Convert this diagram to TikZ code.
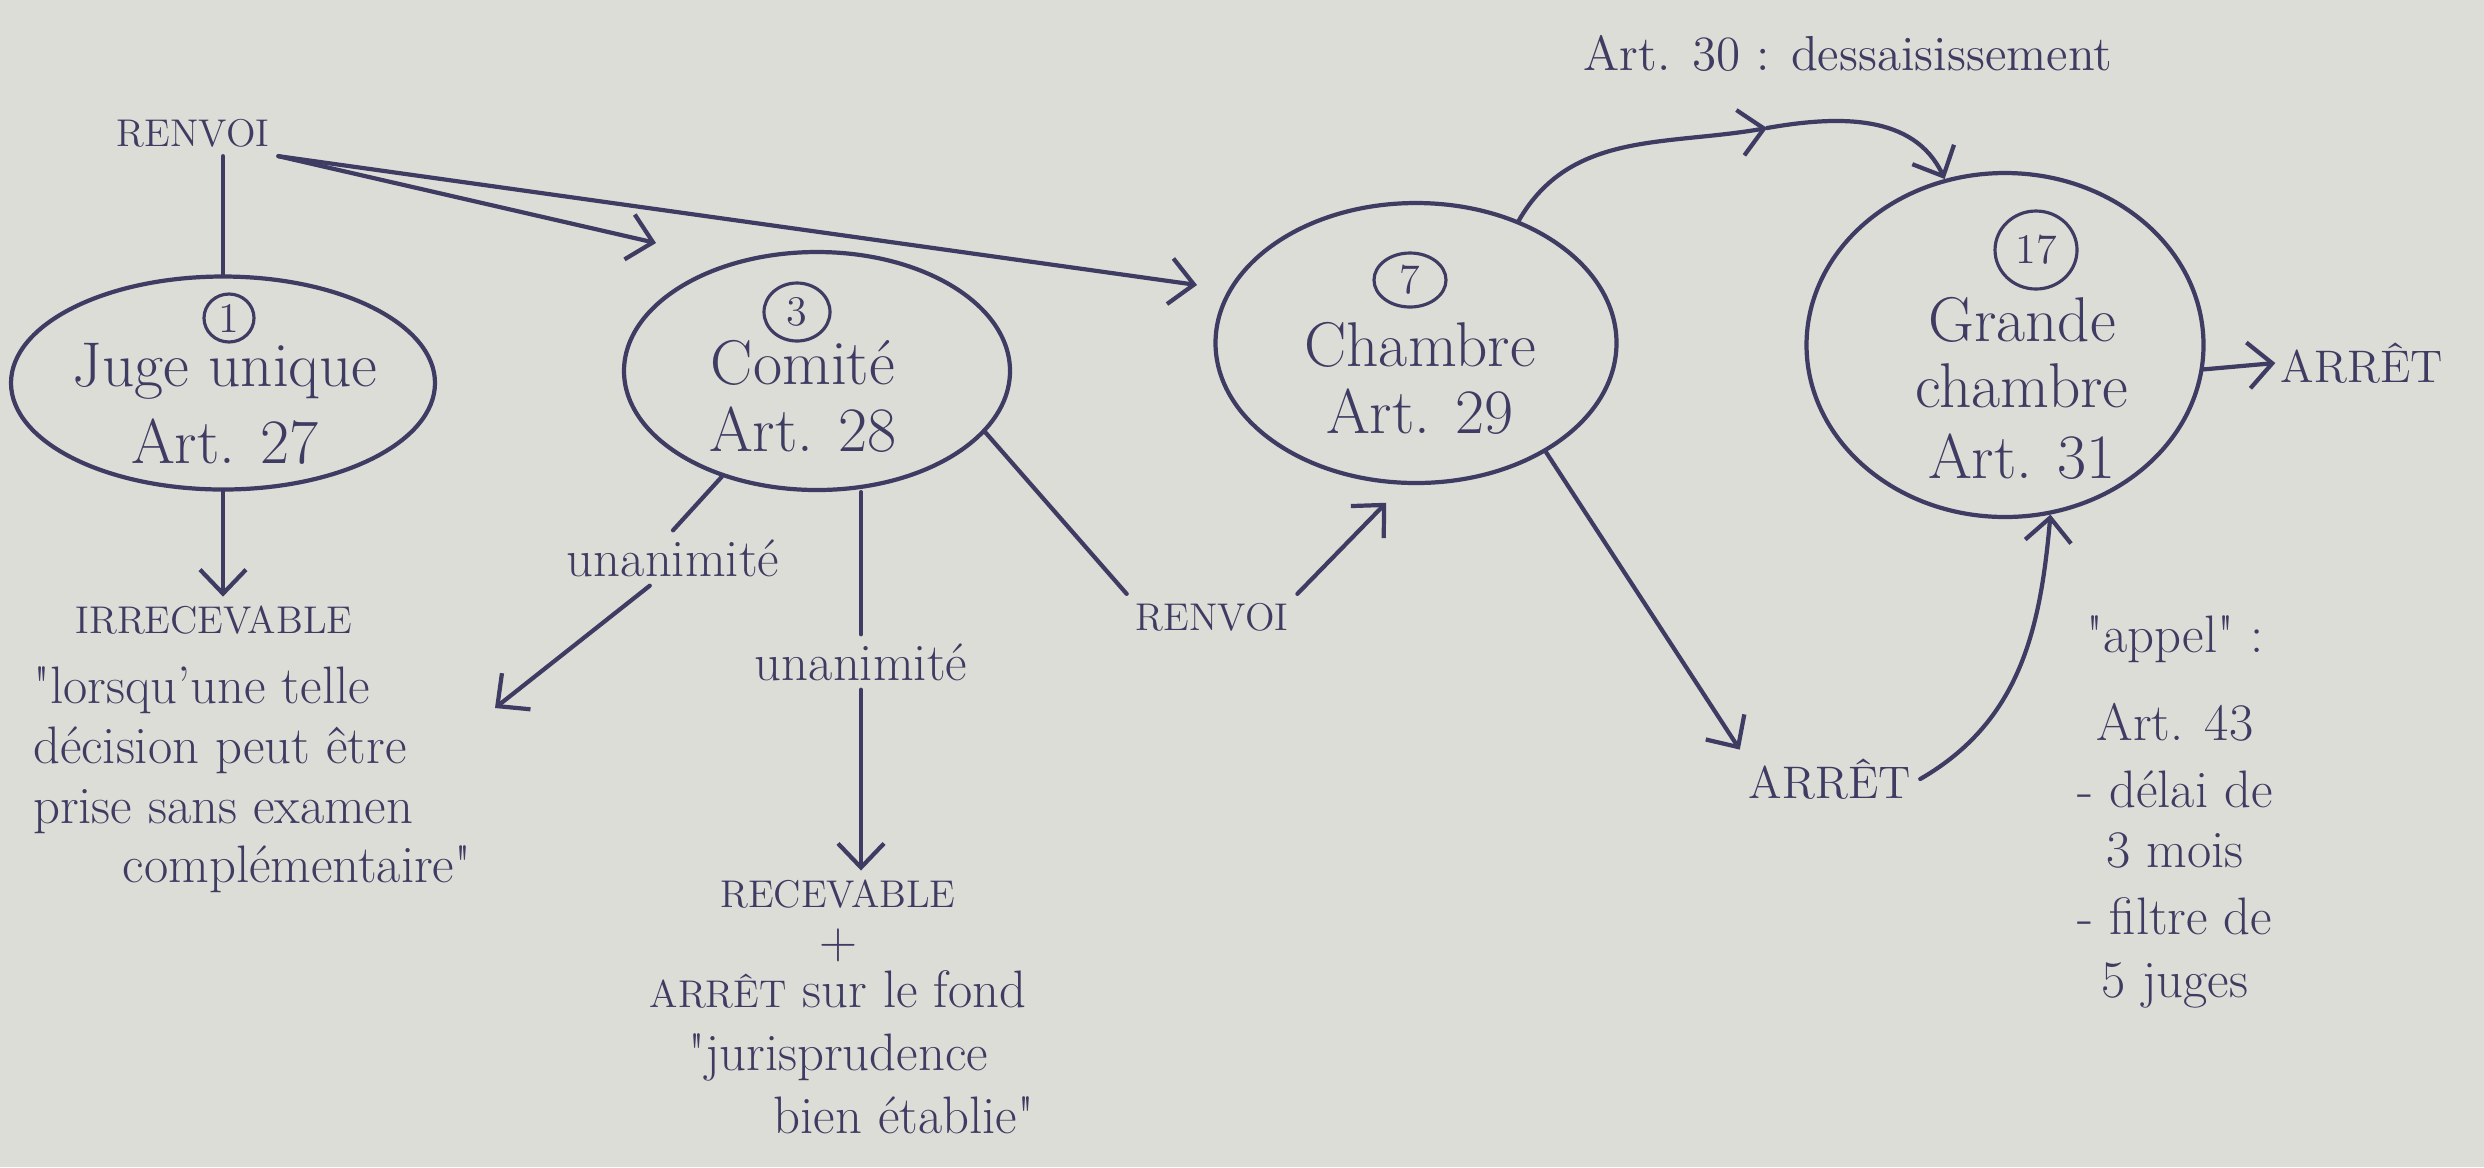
\documentclass[tikz,border=0pt]{standalone}
\usepackage{fontspec}
\usetikzlibrary{shapes.geometric,arrows.meta}

\definecolor{paper}{RGB}{221,221,215}
\definecolor{ink}{RGB}{62,60,98}

\newfontfamily\plainfont{Latin Modern Roman}
\newcommand{\dq}{{\plainfont"}}
\newcommand{\bubfont}{\fontsize{18}{19}\selectfont}
\newcommand{\txtfont}{\fontsize{15}{17}\selectfont}
\newcommand{\capfont}{\fontsize{11}{13}\selectfont}
\newcommand{\bigcapfont}{\fontsize{13}{15}\selectfont}
\newcommand{\numfont}{\fontsize{12}{12}\selectfont}

\tikzset{
  bubble/.style={ellipse, draw, inner sep=0pt},
  num/.style={ellipse, draw, inner sep=0pt, line width=0.9pt, font=\numfont},
  bubtxt/.style={font=\bubfont, align=center, inner sep=1pt},
  txt/.style={font=\txtfont, inner sep=2pt},
  caps/.style={font=\capfont, inner sep=2pt},
  arr/.style={-{Straight Barb[length=2.4mm,width=4.6mm]}}
}

\begin{document}
\begin{tikzpicture}[x=0.1mm, y=0.1mm, color=ink, line width=1.2pt, line cap=round]
  \fill[paper] (0,0) rectangle (2484,-1167);
  \useasboundingbox (0,0) rectangle (2484,-1167);

  % formations
  \node[bubble, minimum width=4.24cm, minimum height=2.13cm] (juge) at (223,-383) {};
  \node[bubble, minimum width=3.86cm, minimum height=2.38cm] (comite) at (817,-371) {};
  \node[bubble, minimum width=4.01cm, minimum height=2.80cm] (chambre) at (1416,-343) {};
  \node[bubble, minimum width=3.97cm, minimum height=3.44cm] (grande) at (2005,-345) {};

  \foreach \n/\x/\y/\w/\h in {1/229/318/5/4.8, 3/797/312/6.6/5.8, 7/1410/280/7.2/5.4, 17/2036/250/8.2/7.8}
    \node[num, minimum width=\w mm, minimum height=\h mm] (n\n) at (\x,-\y) {\n};

  \node[bubtxt] (jugeTxt) at (225,-404) {Juge unique\\[3pt]Art. 27};
  \node[bubtxt] (comiteTxt) at (803,-396) {Comité\\Art. 28};
  \node[bubtxt] (chambreTxt) at (1420,-378) {Chambre\\Art. 29};
  \node[bubtxt] (grandeTxt) at (2022,-388) {Grande\\chambre\\[1pt]Art. 31};

  % textes
  \node[caps] (renvoiA) at (193,-133) {RENVOI};
  \node[font=\fontsize{14}{14}\selectfont] (art30) at (1848,-53) {Art. 30 : dessaisissement};
  \node[font=\bigcapfont, inner sep=1pt] (arretG) at (2362,-363) {ARRÊT};
  \node[caps] (irrecev) at (214,-620) {IRRECEVABLE};
  \node[txt, align=left, anchor=west] (quoteA) at (24,-780)
    {\dq lorsqu'une telle\\décision peut être\\prise sans examen\\\hspace*{1.7em}complémentaire\dq};
  \node[txt] (unanA) at (673,-558) {unanimité};
  \node[txt] (unanB) at (861,-662) {unanimité};
  \node[txt, align=center] (recev) at (838,-1007)
    {{\capfont RECEVABLE}\\[-2.5pt]+\\[-3pt]{\capfont ARRÊT} sur le fond\\[1pt]\dq jurisprudence\\[1pt]\hspace*{2.5em}bien établie\dq};
  \node[caps] (renvoiB) at (1212,-617) {RENVOI};
  \node[font=\bigcapfont, inner sep=2pt] (arretB) at (1830,-779) {ARRÊT};
  \node[txt, align=center] (appel) at (2175,-812)
    {\dq appel\dq\ :\\[8pt]Art. 43\\[2pt]- délai de\\3 mois\\[2pt]- filtre de\\[1pt]5 juges};

  % renvois
  \coordinate (tipC) at (656,-243);
  \coordinate (tipK) at (1197,-285);
  \draw (juge.north |- renvoiA.south) -- (juge.north);
  \draw[arr] (renvoiA.south east) -- (tipC);
  \draw[arr] (renvoiA.south east) -- (tipK);

  \coordinate (tipD) at (1767,-128);
  \draw[arr] (chambre.50) to[out=60, in=190] (tipD);
  \draw[arr] (tipD) to[out=10, in=115] (grande.110);
  \draw[arr] (grande.-7) -- (arretG.west);

  \draw[arr] (juge.south) -- (juge.south |- irrecev.north);
  \coordinate (tipE) at (495,-708);
  \draw (comite.-132) -- (unanA.north);
  \draw[arr] (unanA.-130) -- (tipE);
  \draw (comite.south -| unanB.north) -- (unanB.north);
  \draw[arr] (unanB.south) -- (unanB.south |- recev.north);
  \draw (comite.-20) -- (renvoiB.north west);
  \draw[arr, shorten >=2.5mm] (renvoiB.north east) -- (chambre.-95);

  \draw[arr] (chambre.-40) -- (arretB.north west);
  \draw[arr] (arretB.east) to[out=30, in=-95] (grande.-75);
\end{tikzpicture}
\end{document}
